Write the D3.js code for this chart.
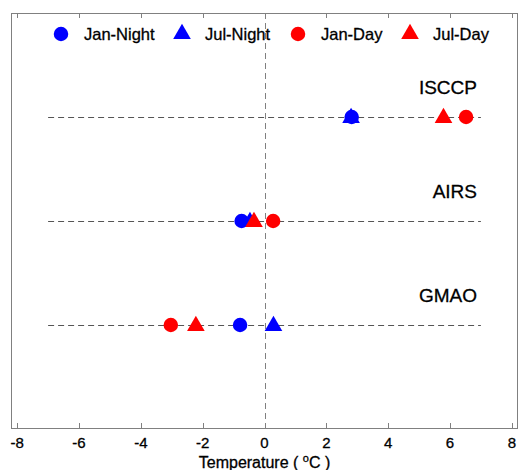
<!DOCTYPE html>
<html>
<head>
<meta charset="utf-8">
<script src="https://cdn.jsdelivr.net/npm/d3@7"></script>
<style>
  body { margin: 0; background: #fff; }
  text { font-family: "Liberation Sans", Arial, sans-serif; fill: #000; }
</style>
</head>
<body>
<div id="chart"></div>
<script>
const datasets = ['ISCCP', 'AIRS', 'GMAO'];
const series = ['Jan-Night', 'Jul-Night', 'Jan-Day', 'Jul-Day'];
const seriesColor = ['#0000ff', '#0000ff', '#ff0000', '#ff0000'];
const seriesShape = ['circle', 'triangle', 'circle', 'triangle'];
// values per series, in dataset order
const janNight = [2.82, -0.74, -0.79];
const julNight = [2.8, -0.47, 0.29];
const janDay = [6.52, 0.28, -3.03];
const julDay = [5.79, -0.34, -2.22];
const xTicks = [-8, -6, -4, -2, 0, 2, 4, 6, 8];

const values = [janNight, julNight, janDay, julDay];
const width = 519, height = 470;
const plotL = 11, plotR = 518, plotT = 13, plotB = 428;

const svg = d3.select('#chart').append('svg')
  .attr('width', width)
  .attr('height', height);

const x = d3.scaleLinear().domain([-8.2, 8.2]).range([plotL, plotR]);
const y = d3.scalePoint().domain(datasets).range([117, 325]);

// frame
svg.append('rect')
  .attr('x', plotL + 0.5).attr('y', plotT + 0.5)
  .attr('width', plotR - plotL - 1).attr('height', plotB - plotT)
  .attr('fill', 'none').attr('stroke', '#808080').attr('stroke-width', 1);

// ticks top and bottom
svg.selectAll('line.tb').data(xTicks).enter().append('line')
  .attr('x1', d => Math.round(x(d)) + 0.5).attr('x2', d => Math.round(x(d)) + 0.5)
  .attr('y1', plotB).attr('y2', plotB - 5)
  .attr('stroke', '#808080');
svg.selectAll('line.tt').data(xTicks).enter().append('line')
  .attr('x1', d => Math.round(x(d)) + 0.5).attr('x2', d => Math.round(x(d)) + 0.5)
  .attr('y1', plotT).attr('y2', plotT + 5)
  .attr('stroke', '#808080');

svg.selectAll('text.tick').data(xTicks).enter().append('text')
  .attr('x', d => x(d)).attr('y', 448)
  .attr('text-anchor', 'middle')
  .style('font-size', '15px')
  .style('stroke', '#000').style('stroke-width', 0.3)
  .text(d => d);

const title = svg.append('text')
  .attr('x', x(0)).attr('y', 468)
  .attr('text-anchor', 'middle')
  .style('font-size', '16px')
  .style('stroke', '#000').style('stroke-width', 0.3);
title.append('tspan').text('Temperature ( ');
title.append('tspan').attr('dy', -6).style('font-size', '11px').text('o');
title.append('tspan').attr('dy', 6).text('C )');

// vertical zero line
svg.append('line')
  .attr('x1', Math.round(x(0)) + 0.5).attr('x2', Math.round(x(0)) + 0.5)
  .attr('y1', plotT).attr('y2', plotB)
  .attr('stroke', '#808080').attr('stroke-dasharray', '6,4');

// row lines
svg.selectAll('line.row').data(datasets).enter().append('line')
  .attr('x1', x(-7)).attr('x2', x(7))
  .attr('y1', d => y(d) + 0.5).attr('y2', d => y(d) + 0.5)
  .attr('stroke', '#555').attr('stroke-dasharray', '6,4');

svg.selectAll('text.ds').data(datasets).enter().append('text')
  .attr('x', 477).attr('y', d => y(d) - 23)
  .attr('text-anchor', 'end')
  .style('font-size', '19px')
  .style('stroke', '#000').style('stroke-width', 0.3)
  .text(d => d);

const circle = d3.symbol().type(d3.symbolCircle).size(165);
const tri = d3.symbol().type(d3.symbolTriangle).size(135);

function shape(s) { return s === 'circle' ? circle() : tri(); }

// draw order: night triangles, night circles, day triangles, day circles
const order = [1, 0, 3, 2];
order.forEach(si => {
  svg.selectAll('path.s' + si).data(values[si]).enter().append('path')
    .attr('d', shape(seriesShape[si]))
    .attr('transform', (d, i) => `translate(${x(d)},${y(datasets[i]) + (seriesShape[si] === 'triangle' ? 1 : 0)})`)
    .attr('fill', seriesColor[si]);
});

// legend
const legX = [61, 182, 298, 410];
const leg = svg.selectAll('g.leg').data(series).enter().append('g')
  .attr('transform', (d, i) => `translate(${legX[i]},34)`);
leg.append('path')
  .attr('d', (d, i) => shape(seriesShape[i]))
  .attr('fill', (d, i) => seriesColor[i]);
leg.append('text')
  .attr('x', 23).attr('y', 6)
  .style('font-size', '16.5px')
  .style('stroke', '#000').style('stroke-width', 0.3)
  .text(d => d);
</script>
</body>
</html>
